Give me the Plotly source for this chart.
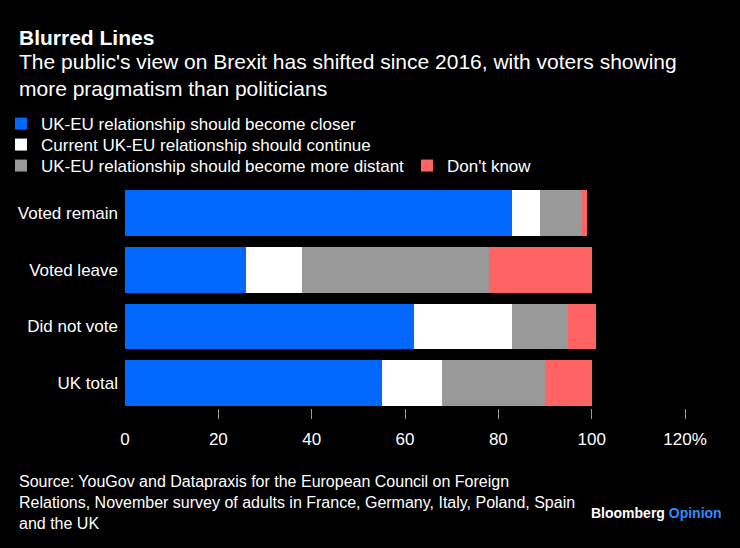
import plotly.graph_objects as go

categories = ["Voted remain", "Voted leave", "Did not vote", "UK total"]
closer = [83, 26, 62, 55]
continue_ = [6, 12, 21, 13]
distant = [9, 40, 12, 22]
dont_know = [1, 22, 6, 10]

series_names = [
    "UK-EU relationship should become closer",
    "Current UK-EU relationship should continue",
    "UK-EU relationship should become more distant",
    "Don't know",
]
colors = ["#0068FF", "#FFFFFF", "#999999", "#FF6363"]

tick_vals = [0, 20, 40, 60, 80, 100, 120]
tick_text = ["0", "20", "40", "60", "80", "100", "120%"]

W, H = 740, 548
L, R, T, B = 125, 55, 185, 140
FONT = "Liberation Sans, Arial, sans-serif"

legend_ids = ["legend", "legend2", "legend3", "legend4"]
# legend placement (pixels in the page): left x, row centre y
legend_pos = [(1, 124), (1, 145), (1, 166), (407, 166)]

fig = go.Figure()
for name, vals, col, lg in zip(series_names, [closer, continue_, distant, dont_know], colors, legend_ids):
    fig.add_trace(go.Bar(
        y=categories, x=vals, name=name, orientation="h",
        marker=dict(color=col, line=dict(width=0)),
        legend=lg,
    ))

def cx(p):
    return p / W

def cy(p):
    return 1 - p / H

def py(p):
    # page pixel y -> paper y of plot area
    return (H - B - p) / (H - T - B)

def px(p):
    return (p - L) / (W - L - R)

legend_layout = {}
for lg, (lx, ly) in zip(legend_ids, legend_pos):
    legend_layout[lg] = dict(
        orientation="v", xref="container", yref="container",
        x=cx(lx), y=cy(ly), xanchor="left", yanchor="middle",
        font=dict(size=17, color="#FFFFFF"), bgcolor="rgba(0,0,0,0)",
        itemclick=False, itemdoubleclick=False,
    )

fig.update_layout(
    width=W, height=H,
    paper_bgcolor="#000000", plot_bgcolor="#000000",
    margin=dict(l=L, r=R, t=T, b=B, autoexpand=False),
    barmode="stack", bargap=0.19,
    font=dict(family=FONT, color="#FFFFFF", size=17),
    showlegend=True,
    xaxis=dict(
        range=[0, 120], tickmode="array", tickvals=tick_vals, ticktext=tick_text,
        ticks="", showgrid=False, zeroline=False, showline=False,
        tickfont=dict(size=17, color="#FFFFFF"), ticklabelstandoff=19,
        minor=dict(tickmode="array", tickvals=tick_vals[1:], ticks="outside",
                   ticklen=10, tickwidth=1, tickcolor="#999999", showgrid=False),
        fixedrange=True,
    ),
    yaxis=dict(
        type="category", categoryorder="array", categoryarray=categories,
        range=[3.44, -0.5], showgrid=False, zeroline=False, showline=False,
        ticks="", tickfont=dict(size=17, color="#FFFFFF"), ticklabelstandoff=6,
        fixedrange=True,
    ),
    **legend_layout,
)

fig.add_annotation(
    text="<b>Blurred Lines</b>", xref="paper", yref="paper",
    x=px(17), y=py(37),
    xanchor="left", yanchor="middle", showarrow=False, align="left",
    font=dict(size=21, color="#FFFFFF", family=FONT),
)
fig.add_annotation(
    text="The public's view on Brexit has shifted since 2016, with voters showing<br>more pragmatism than politicians",
    xref="paper", yref="paper",
    x=px(17), y=py(75),
    xanchor="left", yanchor="middle", showarrow=False, align="left",
    font=dict(size=21, color="#FFFFFF", family=FONT),
)
fig.add_annotation(
    text="Source: YouGov and Datapraxis for the European Council on Foreign<br>Relations, November survey of adults in France, Germany, Italy, Poland, Spain<br>and the UK",
    xref="paper", yref="paper",
    x=px(17), y=py(502),
    xanchor="left", yanchor="middle", showarrow=False, align="left",
    font=dict(size=16, color="#FFFFFF", family=FONT),
)
fig.add_annotation(
    text="<b>Bloomberg</b> <span style='color:#2B8CFF'><b>Opinion</b></span>",
    xref="paper", yref="paper",
    x=px(724), y=py(513),
    xanchor="right", yanchor="middle", showarrow=False, align="right",
    font=dict(size=14, color="#FFFFFF", family=FONT),
)

fig.write_html("out.html")
